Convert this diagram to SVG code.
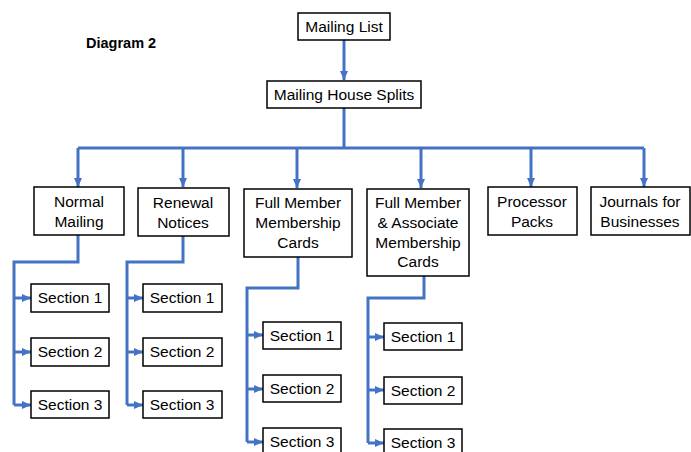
<svg xmlns="http://www.w3.org/2000/svg" width="691" height="452" viewBox="0 0 691 452">
<style>
.box{fill:#fff;stroke:#000;stroke-width:1.5}
.t{font-family:"Liberation Sans",Arial,sans-serif;font-size:15.5px;fill:#000;text-anchor:middle}
.c{fill:none;stroke:#4472C4;stroke-width:3}
</style>
<defs>
<marker id="ah" markerUnits="userSpaceOnUse" markerWidth="10" markerHeight="10" refX="9" refY="5" orient="auto">
<path d="M0,1 L9,5 L0,9 Z" fill="#4472C4"/>
</marker>
</defs>
<rect width="691" height="452" fill="#fff"/>
<text x="86" y="48" style="font-family:'Liberation Sans',Arial,sans-serif;font-size:14.5px;font-weight:bold">Diagram 2</text>

<g id="connectors">
<path class="c" d="M344,40 V80" marker-end="url(#ah)"/>
<path class="c" d="M344,108 V148 H78 M644,148 H344"/>
<path class="c" d="M78,148 V187" marker-end="url(#ah)"/>
<path class="c" d="M183,148 V187" marker-end="url(#ah)"/>
<path class="c" d="M297,148 V188" marker-end="url(#ah)"/>
<path class="c" d="M421,148 V188" marker-end="url(#ah)"/>
<path class="c" d="M531,148 V187" marker-end="url(#ah)"/>
<path class="c" d="M644,148 V187" marker-end="url(#ah)"/>
<!-- Normal Mailing -->
<path class="c" d="M78,235 V262 H14 V405"/>
<path class="c" d="M14,298 H31" marker-end="url(#ah)"/>
<path class="c" d="M14,352 H31" marker-end="url(#ah)"/>
<path class="c" d="M14,405 H31" marker-end="url(#ah)"/>
<!-- Renewal -->
<path class="c" d="M183,236 V262 H127 V405"/>
<path class="c" d="M127,298 H143" marker-end="url(#ah)"/>
<path class="c" d="M127,352 H143" marker-end="url(#ah)"/>
<path class="c" d="M127,405 H143" marker-end="url(#ah)"/>
<!-- Full Member -->
<path class="c" d="M298,257 V288 H247 V442"/>
<path class="c" d="M247,335 H263" marker-end="url(#ah)"/>
<path class="c" d="M247,389 H263" marker-end="url(#ah)"/>
<path class="c" d="M247,442 H263" marker-end="url(#ah)"/>
<!-- Full & Associate -->
<path class="c" d="M424,276 V298 H368 V443"/>
<path class="c" d="M368,337 H384" marker-end="url(#ah)"/>
<path class="c" d="M368,390 H384" marker-end="url(#ah)"/>
<path class="c" d="M368,443 H384" marker-end="url(#ah)"/>
</g>

<g id="mailing-list"><rect class="box" x="298" y="13" width="92" height="27"/><text class="t" x="344" y="32">Mailing List</text></g>
<g id="mailing-house-splits"><rect class="box" x="267" y="81" width="154" height="27"/><text class="t" x="344" y="100">Mailing House Splits</text></g>

<g id="normal-mailing"><rect class="box" x="34" y="187" width="90" height="48"/><text class="t" x="79" y="207">Normal</text><text class="t" x="79" y="227">Mailing</text></g>
<g id="renewal-notices"><rect class="box" x="138" y="188" width="91" height="48"/><text class="t" x="183" y="208">Renewal</text><text class="t" x="183" y="228">Notices</text></g>
<g id="full-member-cards"><rect class="box" x="244" y="189" width="108" height="68"/><text class="t" x="298" y="208">Full Member</text><text class="t" x="298" y="228">Membership</text><text class="t" x="298" y="248">Cards</text></g>
<g id="full-associate-cards"><rect class="box" x="367" y="189" width="102" height="87"/><text class="t" x="418" y="208">Full Member</text><text class="t" x="418" y="228">&amp; Associate</text><text class="t" x="418" y="248">Membership</text><text class="t" x="418" y="267">Cards</text></g>
<g id="processor-packs"><rect class="box" x="488" y="187" width="89" height="48"/><text class="t" x="532" y="207">Processor</text><text class="t" x="532" y="227">Packs</text></g>
<g id="journals"><rect class="box" x="591" y="187" width="99" height="48"/><text class="t" x="640" y="207">Journals for</text><text class="t" x="640" y="227">Businesses</text></g>

<g id="nm-s1"><rect class="box" x="31" y="284" width="78" height="28"/><text class="t" x="70" y="303">Section 1</text></g>
<g id="nm-s2"><rect class="box" x="31" y="338" width="78" height="28"/><text class="t" x="70" y="357">Section 2</text></g>
<g id="nm-s3"><rect class="box" x="31" y="391" width="78" height="27"/><text class="t" x="70" y="410">Section 3</text></g>

<g id="rn-s1"><rect class="box" x="143" y="284" width="79" height="28"/><text class="t" x="182" y="303">Section 1</text></g>
<g id="rn-s2"><rect class="box" x="143" y="338" width="79" height="28"/><text class="t" x="182" y="357">Section 2</text></g>
<g id="rn-s3"><rect class="box" x="143" y="391" width="79" height="27"/><text class="t" x="182" y="410">Section 3</text></g>

<g id="fm-s1"><rect class="box" x="263" y="322" width="78" height="27"/><text class="t" x="302" y="341">Section 1</text></g>
<g id="fm-s2"><rect class="box" x="263" y="375" width="78" height="27"/><text class="t" x="302" y="394">Section 2</text></g>
<g id="fm-s3"><rect class="box" x="263" y="428" width="78" height="30"/><text class="t" x="302" y="447">Section 3</text></g>

<g id="fa-s1"><rect class="box" x="384" y="323" width="78" height="27"/><text class="t" x="423" y="342">Section 1</text></g>
<g id="fa-s2"><rect class="box" x="384" y="377" width="78" height="27"/><text class="t" x="423" y="396">Section 2</text></g>
<g id="fa-s3"><rect class="box" x="384" y="429" width="78" height="30"/><text class="t" x="423" y="448">Section 3</text></g>
</svg>
